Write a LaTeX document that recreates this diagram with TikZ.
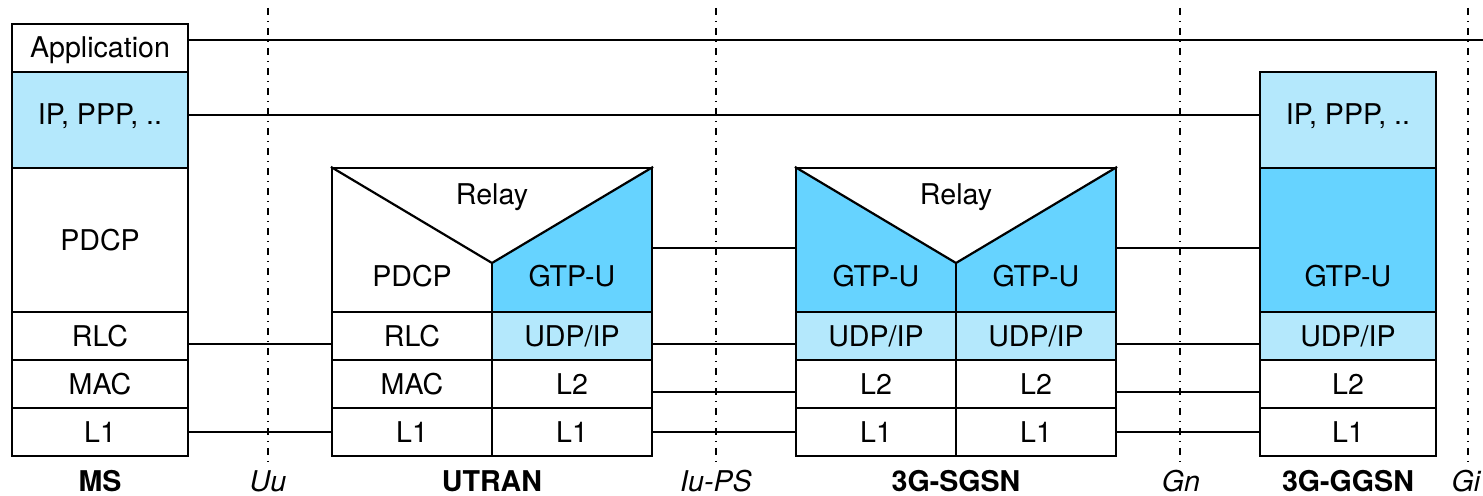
\documentclass[tikz,border=0pt]{standalone}
\usepackage{fontspec}
\setmainfont{TeX Gyre Heros}
\usetikzlibrary{fit}
\definecolor{lightblue}{RGB}{180,232,252}
\definecolor{darkblue}{RGB}{102,211,255}

\begin{document}
\begin{tikzpicture}[x=0.5pt,y=-0.5pt,
  font=\fontsize{14.3}{17}\selectfont,
  layer/.style={draw, line width=1.1pt, inner sep=0pt},
  light/.style={layer, fill=lightblue},
  txt/.style={inner sep=0pt},
  conn/.style={line width=0.7pt},
  peer/.style={line width=1pt},
  iface/.style={line width=0.75pt, dash pattern=on 3.75pt off 2.75pt on 0.75pt off 2.75pt},
  entity/.style={font=\fontsize{14.3}{17}\selectfont\bfseries},
  ifname/.style={font=\fontsize{14.3}{17}\selectfont\itshape}
]
\useasboundingbox (0,0) rectangle (1483,496);

% ---------- interface boundaries ----------
\coordinate (uut) at (268,8);   \coordinate (uub) at (268,463);
\coordinate (iut) at (716,8);   \coordinate (iub) at (716,463);
\coordinate (gnt) at (1180,8);  \coordinate (gnb) at (1180,463);
\coordinate (git) at (1468,8);  \coordinate (gib) at (1468,463);
\draw[iface] (uut) -- (uub);
\draw[iface] (iut) -- (iub);
\draw[iface] (gnt) -- (gnb);
\draw[iface] (git) -- (gib);

% ---------- MS ----------
\node[layer, fit={(12,24)(188,72)}, label={[txt,yshift=-1pt]center:Application}] (msapp) {};
\node[light, fit={(12,72)(188,168)}, label={[txt,yshift=2pt]center:{IP, PPP, ..}}] (msip) {};
\node[layer, fit={(12,168)(188,312)}, label={[txt]center:PDCP}] (mspdcp) {};
\node[layer, fit={(12,312)(188,360)}, label={[txt]center:RLC}] (msrlc) {};
\node[layer, fit={(12,360)(188,408)}, label={[txt]center:MAC}] (msmac) {};
\node[layer, fit={(12,408)(188,456)}, label={[txt]center:L1}] (msl1) {};

% ---------- UTRAN ----------
\fill[darkblue] (492,263) -- (652,168) -- (652,312) -- (492,312) -- cycle;
\node[layer, fit={(332,168)(652,312)}] (utrelay) {};
\draw[line width=1.1pt] (utrelay.north west) -- (492,263) -- (utrelay.north east);
\draw[line width=1.1pt] (492,263) -- (492,312);
\node[txt] (utrelaytxt) at (492,197) {Relay};
\node[txt] (utpdcp) at (412,276) {PDCP};
\node[txt] (utgtp) at (572,276) {GTP-U};
\node[layer, fit={(332,312)(492,360)}, label={[txt]center:RLC}] (utrlc) {};
\node[light, fit={(492,312)(652,360)}, label={[txt]center:UDP/IP}] (utudp) {};
\node[layer, fit={(332,360)(492,408)}, label={[txt]center:MAC}] (utmac) {};
\node[layer, fit={(492,360)(652,408)}, label={[txt]center:L2}] (utl2) {};
\node[layer, fit={(332,408)(492,456)}, label={[txt]center:L1}] (utl1a) {};
\node[layer, fit={(492,408)(652,456)}, label={[txt]center:L1}] (utl1b) {};

% ---------- 3G-SGSN ----------
\fill[darkblue] (796,168) -- (956,263) -- (1116,168) -- (1116,312) -- (796,312) -- cycle;
\node[layer, fit={(796,168)(1116,312)}] (sgrelay) {};
\draw[line width=1.1pt] (sgrelay.north west) -- (956,263) -- (sgrelay.north east);
\draw[line width=1.1pt] (956,263) -- (956,312);
\node[txt] (sgrelaytxt) at (956,197) {Relay};
\node[txt] (sggtpa) at (876,276) {GTP-U};
\node[txt] (sggtpb) at (1036,276) {GTP-U};
\node[light, fit={(796,312)(956,360)}, label={[txt]center:UDP/IP}] (sgudpa) {};
\node[light, fit={(956,312)(1116,360)}, label={[txt]center:UDP/IP}] (sgudpb) {};
\node[layer, fit={(796,360)(956,408)}, label={[txt]center:L2}] (sgl2a) {};
\node[layer, fit={(956,360)(1116,408)}, label={[txt]center:L2}] (sgl2b) {};
\node[layer, fit={(796,408)(956,456)}, label={[txt]center:L1}] (sgl1a) {};
\node[layer, fit={(956,408)(1116,456)}, label={[txt]center:L1}] (sgl1b) {};

% ---------- 3G-GGSN ----------
\node[light, fit={(1260,72)(1436,168)}, label={[txt,yshift=2pt]center:{IP, PPP, ..}}] (ggip) {};
\node[layer, fill=darkblue, fit={(1260,168)(1436,312)}] (gggtp) {};
\node[txt] (gggtptxt) at (1348,276) {GTP-U};
\node[light, fit={(1260,312)(1436,360)}, label={[txt]center:UDP/IP}] (ggudp) {};
\node[layer, fit={(1260,360)(1436,408)}, label={[txt]center:L2}] (ggl2) {};
\node[layer, fit={(1260,408)(1436,456)}, label={[txt]center:L1}] (ggl1) {};

% ---------- peer connections ----------
\coordinate (append) at (1483,40);
\draw[peer] ([yshift=4pt]msapp.east) -- (append);
\draw[peer] ([yshift=2.25pt]msip.east) -- ([yshift=2.25pt]ggip.west);

\draw[conn] ([yshift=-4pt]msrlc.east) -- ([yshift=-4pt]utrlc.west);
\draw[conn] (msl1.east) -- (utl1a.west);

\draw[conn] ([yshift=-4pt]utrelay.east) -- ([yshift=-4pt]sgrelay.west);
\draw[conn] ([yshift=-4pt]utudp.east) -- ([yshift=-4pt]sgudpa.west);
\draw[conn] ([yshift=-4pt]utl2.east) -- ([yshift=-4pt]sgl2a.west);
\draw[conn] (utl1b.east) -- (sgl1a.west);

\draw[conn] ([yshift=-4pt]sgrelay.east) -- ([yshift=-4pt]gggtp.west);
\draw[conn] ([yshift=-4pt]sgudpb.east) -- ([yshift=-4pt]ggudp.west);
\draw[conn] ([yshift=-4pt]sgl2b.east) -- ([yshift=-4pt]ggl2.west);
\draw[conn] (sgl1b.east) -- (ggl1.west);

% ---------- names ----------
\node[entity] (msname) at (100,481) {MS};
\node[ifname] (uuname) at (268,481) {Uu};
\node[entity] (utname) at (492,481) {UTRAN};
\node[ifname] (iuname) at (716,481) {Iu-PS};
\node[entity] (sgname) at (956,481) {3G-SGSN};
\node[ifname] (gnname) at (1181,481) {Gn};
\node[entity] (ggname) at (1348,481) {3G-GGSN};
\node[ifname] (giname) at (1466,481) {Gi};
\end{tikzpicture}
\end{document}
